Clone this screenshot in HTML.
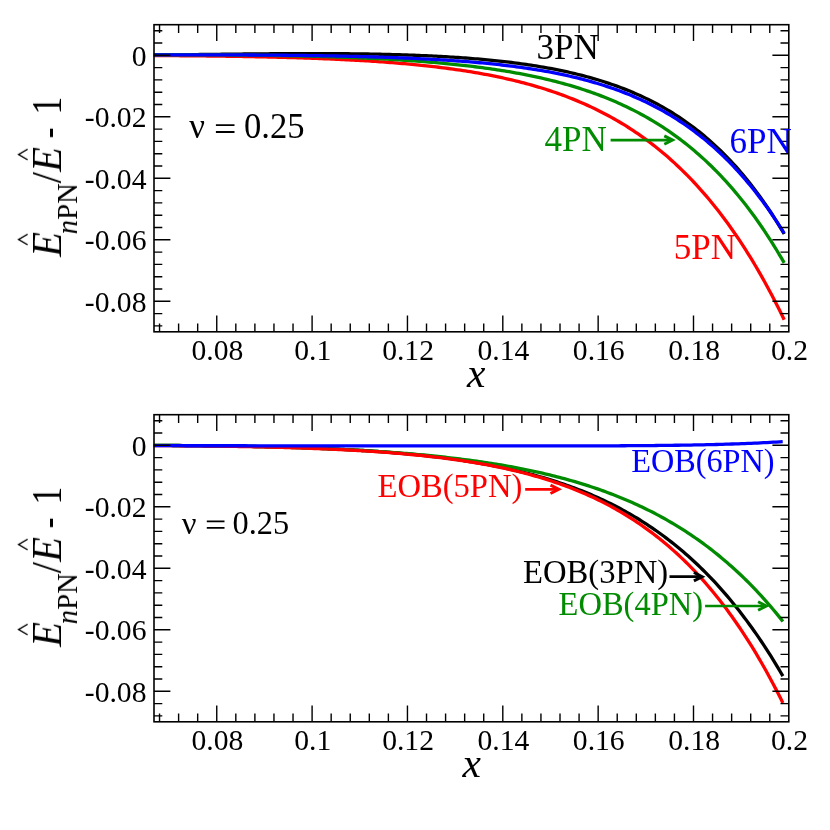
<!DOCTYPE html>
<html><head><meta charset="utf-8"><title>PN energy comparison</title>
<style>html,body{margin:0;padding:0;background:#fff;}svg{display:block;}</style>
</head><body>
<svg width="830" height="830" viewBox="0 0 830 830">
<rect width="830" height="830" fill="#fff"/>
<g style="will-change:transform">
<g fill="none" stroke-width="3.3" stroke-linecap="butt" stroke-linejoin="round">
<path d="M153.82,55.06 L156.25,55.03 L158.69,55.00 L161.12,54.98 L163.55,54.95 L165.99,54.92 L168.42,54.89 L170.86,54.86 L173.29,54.84 L175.72,54.81 L178.16,54.78 L180.59,54.75 L183.03,54.72 L185.46,54.69 L187.89,54.66 L190.33,54.63 L192.76,54.60 L195.20,54.57 L197.63,54.54 L200.06,54.51 L202.50,54.49 L204.93,54.46 L207.36,54.43 L209.80,54.40 L212.23,54.37 L214.67,54.34 L217.10,54.31 L219.53,54.28 L221.97,54.25 L224.40,54.23 L226.84,54.20 L229.27,54.17 L231.70,54.14 L234.14,54.12 L236.57,54.09 L239.01,54.06 L241.44,54.04 L243.87,54.01 L246.31,53.99 L248.74,53.96 L251.18,53.94 L253.61,53.92 L256.04,53.90 L258.48,53.87 L260.91,53.85 L263.34,53.83 L265.78,53.81 L268.21,53.79 L270.65,53.77 L273.08,53.76 L275.51,53.74 L277.95,53.72 L280.38,53.71 L282.82,53.69 L285.25,53.68 L287.68,53.67 L290.12,53.66 L292.55,53.65 L294.99,53.64 L297.42,53.63 L299.85,53.62 L302.29,53.62 L304.72,53.61 L307.15,53.61 L309.59,53.61 L312.02,53.60 L314.46,53.61 L316.89,53.61 L319.32,53.61 L321.76,53.61 L324.19,53.62 L326.63,53.63 L329.06,53.64 L331.49,53.65 L333.93,53.66 L336.36,53.67 L338.80,53.69 L341.23,53.71 L343.66,53.72 L346.10,53.75 L348.53,53.77 L350.97,53.79 L353.40,53.82 L355.83,53.85 L358.27,53.88 L360.70,53.91 L363.13,53.94 L365.57,53.98 L368.00,54.02 L370.44,54.06 L372.87,54.10 L375.30,54.15 L377.74,54.20 L380.17,54.25 L382.61,54.30 L385.04,54.36 L387.47,54.41 L389.91,54.47 L392.34,54.54 L394.78,54.60 L397.21,54.67 L399.64,54.74 L402.08,54.82 L404.51,54.90 L406.94,54.98 L409.38,55.06 L411.81,55.15 L414.25,55.24 L416.68,55.33 L419.11,55.43 L421.55,55.53 L423.98,55.63 L426.42,55.74 L428.85,55.85 L431.28,55.97 L433.72,56.09 L436.15,56.21 L438.59,56.34 L441.02,56.47 L443.45,56.60 L445.89,56.74 L448.32,56.88 L450.76,57.03 L453.19,57.18 L455.62,57.34 L458.06,57.50 L460.49,57.67 L462.92,57.84 L465.36,58.02 L467.79,58.20 L470.23,58.39 L472.66,58.58 L475.09,58.78 L477.53,58.98 L479.96,59.19 L482.40,59.41 L484.83,59.63 L487.26,59.86 L489.70,60.09 L492.13,60.33 L494.57,60.58 L497.00,60.83 L499.43,61.10 L501.87,61.36 L504.30,61.64 L506.74,61.92 L509.17,62.21 L511.60,62.51 L514.04,62.82 L516.47,63.13 L518.90,63.45 L521.34,63.78 L523.77,64.12 L526.21,64.47 L528.64,64.83 L531.07,65.19 L533.51,65.57 L535.94,65.96 L538.38,66.35 L540.81,66.76 L543.24,67.17 L545.68,67.60 L548.11,68.04 L550.55,68.49 L552.98,68.95 L555.41,69.42 L557.85,69.90 L560.28,70.40 L562.71,70.91 L565.15,71.43 L567.58,71.96 L570.02,72.51 L572.45,73.07 L574.88,73.65 L577.32,74.24 L579.75,74.84 L582.19,75.46 L584.62,76.09 L587.05,76.74 L589.49,77.41 L591.92,78.09 L594.36,78.79 L596.79,79.51 L599.22,80.24 L601.66,81.00 L604.09,81.77 L606.53,82.56 L608.96,83.36 L611.39,84.19 L613.83,85.04 L616.26,85.91 L618.69,86.80 L621.13,87.71 L623.56,88.64 L626.00,89.60 L628.43,90.58 L630.86,91.58 L633.30,92.61 L635.73,93.66 L638.17,94.74 L640.60,95.84 L643.03,96.96 L645.47,98.12 L647.90,99.30 L650.34,100.51 L652.77,101.75 L655.20,103.02 L657.64,104.32 L660.07,105.65 L662.50,107.01 L664.94,108.40 L667.37,109.82 L669.81,111.28 L672.24,112.77 L674.67,114.30 L677.11,115.86 L679.54,117.46 L681.98,119.09 L684.41,120.77 L686.84,122.48 L689.28,124.23 L691.71,126.02 L694.15,127.86 L696.58,129.73 L699.01,131.65 L701.45,133.61 L703.88,135.62 L706.32,137.67 L708.75,139.77 L711.18,141.91 L713.62,144.11 L716.05,146.35 L718.48,148.65 L720.92,150.99 L723.35,153.39 L725.79,155.85 L728.22,158.35 L730.65,160.92 L733.09,163.54 L735.52,166.22 L737.96,168.96 L740.39,171.76 L742.82,174.62 L745.26,177.54 L747.69,180.53 L750.13,183.58 L752.56,186.71 L754.99,189.90 L757.43,193.15 L759.86,196.48 L762.29,199.89 L764.73,203.36 L767.16,206.91 L769.60,210.54 L772.03,214.24 L774.46,218.03 L776.90,221.90 L779.33,225.84 L781.77,229.88 L784.20,234.00" stroke="#000000"/>
<path d="M153.82,55.54 L156.25,55.56 L158.69,55.57 L161.12,55.59 L163.55,55.60 L165.99,55.62 L168.42,55.63 L170.86,55.65 L173.29,55.67 L175.72,55.69 L178.16,55.71 L180.59,55.73 L183.03,55.75 L185.46,55.77 L187.89,55.79 L190.33,55.81 L192.76,55.83 L195.20,55.86 L197.63,55.88 L200.06,55.91 L202.50,55.93 L204.93,55.96 L207.36,55.98 L209.80,56.01 L212.23,56.04 L214.67,56.07 L217.10,56.10 L219.53,56.13 L221.97,56.17 L224.40,56.20 L226.84,56.24 L229.27,56.27 L231.70,56.31 L234.14,56.35 L236.57,56.38 L239.01,56.42 L241.44,56.47 L243.87,56.51 L246.31,56.55 L248.74,56.60 L251.18,56.64 L253.61,56.69 L256.04,56.74 L258.48,56.79 L260.91,56.84 L263.34,56.89 L265.78,56.94 L268.21,57.00 L270.65,57.05 L273.08,57.11 L275.51,57.17 L277.95,57.23 L280.38,57.29 L282.82,57.36 L285.25,57.42 L287.68,57.49 L290.12,57.56 L292.55,57.63 L294.99,57.71 L297.42,57.78 L299.85,57.86 L302.29,57.94 L304.72,58.02 L307.15,58.10 L309.59,58.18 L312.02,58.27 L314.46,58.36 L316.89,58.45 L319.32,58.54 L321.76,58.64 L324.19,58.74 L326.63,58.84 L329.06,58.94 L331.49,59.04 L333.93,59.15 L336.36,59.26 L338.80,59.38 L341.23,59.49 L343.66,59.61 L346.10,59.73 L348.53,59.86 L350.97,59.98 L353.40,60.12 L355.83,60.25 L358.27,60.39 L360.70,60.53 L363.13,60.67 L365.57,60.82 L368.00,60.97 L370.44,61.12 L372.87,61.28 L375.30,61.44 L377.74,61.61 L380.17,61.78 L382.61,61.95 L385.04,62.13 L387.47,62.31 L389.91,62.49 L392.34,62.68 L394.78,62.88 L397.21,63.08 L399.64,63.28 L402.08,63.49 L404.51,63.70 L406.94,63.92 L409.38,64.14 L411.81,64.37 L414.25,64.61 L416.68,64.85 L419.11,65.09 L421.55,65.34 L423.98,65.60 L426.42,65.86 L428.85,66.13 L431.28,66.40 L433.72,66.68 L436.15,66.97 L438.59,67.26 L441.02,67.56 L443.45,67.87 L445.89,68.18 L448.32,68.50 L450.76,68.83 L453.19,69.17 L455.62,69.51 L458.06,69.86 L460.49,70.22 L462.92,70.59 L465.36,70.96 L467.79,71.35 L470.23,71.74 L472.66,72.14 L475.09,72.55 L477.53,72.97 L479.96,73.40 L482.40,73.84 L484.83,74.28 L487.26,74.74 L489.70,75.21 L492.13,75.69 L494.57,76.18 L497.00,76.68 L499.43,77.19 L501.87,77.71 L504.30,78.24 L506.74,78.79 L509.17,79.34 L511.60,79.91 L514.04,80.49 L516.47,81.09 L518.90,81.70 L521.34,82.32 L523.77,82.95 L526.21,83.60 L528.64,84.26 L531.07,84.93 L533.51,85.62 L535.94,86.33 L538.38,87.05 L540.81,87.78 L543.24,88.53 L545.68,89.30 L548.11,90.09 L550.55,90.89 L552.98,91.70 L555.41,92.54 L557.85,93.39 L560.28,94.26 L562.71,95.15 L565.15,96.05 L567.58,96.98 L570.02,97.93 L572.45,98.89 L574.88,99.88 L577.32,100.88 L579.75,101.91 L582.19,102.96 L584.62,104.03 L587.05,105.12 L589.49,106.23 L591.92,107.37 L594.36,108.53 L596.79,109.71 L599.22,110.92 L601.66,112.16 L604.09,113.41 L606.53,114.70 L608.96,116.01 L611.39,117.34 L613.83,118.71 L616.26,120.10 L618.69,121.52 L621.13,122.97 L623.56,124.44 L626.00,125.95 L628.43,127.49 L630.86,129.05 L633.30,130.65 L635.73,132.28 L638.17,133.94 L640.60,135.64 L643.03,137.37 L645.47,139.13 L647.90,140.92 L650.34,142.76 L652.77,144.62 L655.20,146.53 L657.64,148.47 L660.07,150.45 L662.50,152.47 L664.94,154.52 L667.37,156.62 L669.81,158.76 L672.24,160.93 L674.67,163.15 L677.11,165.42 L679.54,167.72 L681.98,170.07 L684.41,172.46 L686.84,174.90 L689.28,177.39 L691.71,179.92 L694.15,182.50 L696.58,185.13 L699.01,187.81 L701.45,190.53 L703.88,193.31 L706.32,196.14 L708.75,199.03 L711.18,201.96 L713.62,204.95 L716.05,208.00 L718.48,211.10 L720.92,214.26 L723.35,217.48 L725.79,220.76 L728.22,224.09 L730.65,227.49 L733.09,230.95 L735.52,234.47 L737.96,238.05 L740.39,241.70 L742.82,245.42 L745.26,249.20 L747.69,253.05 L750.13,256.97 L752.56,260.96 L754.99,265.02 L757.43,269.15 L759.86,273.36 L762.29,277.64 L764.73,281.99 L767.16,286.43 L769.60,290.94 L772.03,295.53 L774.46,300.20 L776.90,304.95 L779.33,309.78 L781.77,314.70 L784.20,319.70" stroke="#ff0000"/>
<path d="M153.82,54.74 L156.25,54.74 L158.69,54.74 L161.12,54.74 L163.55,54.74 L165.99,54.74 L168.42,54.74 L170.86,54.74 L173.29,54.74 L175.72,54.74 L178.16,54.75 L180.59,54.75 L183.03,54.76 L185.46,54.76 L187.89,54.77 L190.33,54.77 L192.76,54.78 L195.20,54.79 L197.63,54.79 L200.06,54.80 L202.50,54.81 L204.93,54.82 L207.36,54.83 L209.80,54.85 L212.23,54.86 L214.67,54.87 L217.10,54.89 L219.53,54.90 L221.97,54.92 L224.40,54.93 L226.84,54.95 L229.27,54.97 L231.70,54.99 L234.14,55.01 L236.57,55.03 L239.01,55.05 L241.44,55.07 L243.87,55.10 L246.31,55.12 L248.74,55.15 L251.18,55.18 L253.61,55.20 L256.04,55.23 L258.48,55.26 L260.91,55.30 L263.34,55.33 L265.78,55.36 L268.21,55.40 L270.65,55.43 L273.08,55.47 L275.51,55.51 L277.95,55.55 L280.38,55.59 L282.82,55.64 L285.25,55.68 L287.68,55.73 L290.12,55.77 L292.55,55.82 L294.99,55.87 L297.42,55.92 L299.85,55.98 L302.29,56.03 L304.72,56.09 L307.15,56.15 L309.59,56.21 L312.02,56.27 L314.46,56.33 L316.89,56.40 L319.32,56.46 L321.76,56.53 L324.19,56.60 L326.63,56.67 L329.06,56.75 L331.49,56.83 L333.93,56.90 L336.36,56.98 L338.80,57.07 L341.23,57.15 L343.66,57.24 L346.10,57.33 L348.53,57.42 L350.97,57.51 L353.40,57.61 L355.83,57.71 L358.27,57.81 L360.70,57.91 L363.13,58.02 L365.57,58.12 L368.00,58.23 L370.44,58.35 L372.87,58.46 L375.30,58.58 L377.74,58.71 L380.17,58.83 L382.61,58.96 L385.04,59.09 L387.47,59.22 L389.91,59.36 L392.34,59.50 L394.78,59.64 L397.21,59.79 L399.64,59.94 L402.08,60.10 L404.51,60.25 L406.94,60.41 L409.38,60.58 L411.81,60.75 L414.25,60.92 L416.68,61.10 L419.11,61.28 L421.55,61.46 L423.98,61.65 L426.42,61.84 L428.85,62.04 L431.28,62.24 L433.72,62.45 L436.15,62.66 L438.59,62.87 L441.02,63.09 L443.45,63.32 L445.89,63.55 L448.32,63.79 L450.76,64.03 L453.19,64.27 L455.62,64.53 L458.06,64.78 L460.49,65.05 L462.92,65.32 L465.36,65.59 L467.79,65.87 L470.23,66.16 L472.66,66.45 L475.09,66.75 L477.53,67.06 L479.96,67.38 L482.40,67.70 L484.83,68.03 L487.26,68.36 L489.70,68.70 L492.13,69.05 L494.57,69.41 L497.00,69.78 L499.43,70.15 L501.87,70.54 L504.30,70.93 L506.74,71.33 L509.17,71.74 L511.60,72.15 L514.04,72.58 L516.47,73.02 L518.90,73.46 L521.34,73.92 L523.77,74.38 L526.21,74.86 L528.64,75.35 L531.07,75.84 L533.51,76.35 L535.94,76.87 L538.38,77.40 L540.81,77.94 L543.24,78.50 L545.68,79.06 L548.11,79.64 L550.55,80.23 L552.98,80.84 L555.41,81.45 L557.85,82.08 L560.28,82.73 L562.71,83.39 L565.15,84.06 L567.58,84.75 L570.02,85.45 L572.45,86.17 L574.88,86.90 L577.32,87.65 L579.75,88.42 L582.19,89.20 L584.62,90.00 L587.05,90.82 L589.49,91.65 L591.92,92.50 L594.36,93.38 L596.79,94.26 L599.22,95.17 L601.66,96.10 L604.09,97.05 L606.53,98.02 L608.96,99.01 L611.39,100.02 L613.83,101.05 L616.26,102.11 L618.69,103.18 L621.13,104.28 L623.56,105.40 L626.00,106.55 L628.43,107.72 L630.86,108.92 L633.30,110.14 L635.73,111.39 L638.17,112.66 L640.60,113.96 L643.03,115.29 L645.47,116.65 L647.90,118.03 L650.34,119.45 L652.77,120.89 L655.20,122.36 L657.64,123.87 L660.07,125.40 L662.50,126.97 L664.94,128.57 L667.37,130.20 L669.81,131.87 L672.24,133.57 L674.67,135.31 L677.11,137.08 L679.54,138.89 L681.98,140.74 L684.41,142.62 L686.84,144.55 L689.28,146.51 L691.71,148.51 L694.15,150.55 L696.58,152.64 L699.01,154.77 L701.45,156.94 L703.88,159.15 L706.32,161.41 L708.75,163.71 L711.18,166.06 L713.62,168.46 L716.05,170.91 L718.48,173.40 L720.92,175.95 L723.35,178.54 L725.79,181.19 L728.22,183.89 L730.65,186.65 L733.09,189.45 L735.52,192.32 L737.96,195.24 L740.39,198.21 L742.82,201.25 L745.26,204.35 L747.69,207.50 L750.13,210.72 L752.56,214.00 L754.99,217.34 L757.43,220.75 L759.86,224.23 L762.29,227.77 L764.73,231.38 L767.16,235.06 L769.60,238.81 L772.03,242.63 L774.46,246.52 L776.90,250.49 L779.33,254.54 L781.77,258.66 L784.20,262.86" stroke="#008b00"/>
<path d="M153.82,54.81 L156.25,54.80 L158.69,54.80 L161.12,54.80 L163.55,54.80 L165.99,54.79 L168.42,54.79 L170.86,54.79 L173.29,54.79 L175.72,54.79 L178.16,54.79 L180.59,54.79 L183.03,54.79 L185.46,54.79 L187.89,54.80 L190.33,54.80 L192.76,54.80 L195.20,54.80 L197.63,54.80 L200.06,54.81 L202.50,54.81 L204.93,54.82 L207.36,54.82 L209.80,54.83 L212.23,54.83 L214.67,54.84 L217.10,54.84 L219.53,54.85 L221.97,54.86 L224.40,54.87 L226.84,54.88 L229.27,54.88 L231.70,54.89 L234.14,54.90 L236.57,54.92 L239.01,54.93 L241.44,54.94 L243.87,54.95 L246.31,54.96 L248.74,54.98 L251.18,54.99 L253.61,55.01 L256.04,55.02 L258.48,55.04 L260.91,55.06 L263.34,55.08 L265.78,55.09 L268.21,55.11 L270.65,55.13 L273.08,55.15 L275.51,55.18 L277.95,55.20 L280.38,55.22 L282.82,55.25 L285.25,55.27 L287.68,55.30 L290.12,55.32 L292.55,55.35 L294.99,55.38 L297.42,55.41 L299.85,55.44 L302.29,55.47 L304.72,55.50 L307.15,55.54 L309.59,55.57 L312.02,55.61 L314.46,55.64 L316.89,55.68 L319.32,55.72 L321.76,55.76 L324.19,55.80 L326.63,55.84 L329.06,55.88 L331.49,55.93 L333.93,55.97 L336.36,56.02 L338.80,56.07 L341.23,56.12 L343.66,56.17 L346.10,56.22 L348.53,56.28 L350.97,56.33 L353.40,56.39 L355.83,56.45 L358.27,56.51 L360.70,56.57 L363.13,56.64 L365.57,56.70 L368.00,56.77 L370.44,56.84 L372.87,56.91 L375.30,56.98 L377.74,57.05 L380.17,57.13 L382.61,57.21 L385.04,57.29 L387.47,57.37 L389.91,57.46 L392.34,57.54 L394.78,57.63 L397.21,57.73 L399.64,57.82 L402.08,57.92 L404.51,58.01 L406.94,58.12 L409.38,58.22 L411.81,58.33 L414.25,58.44 L416.68,58.55 L419.11,58.67 L421.55,58.78 L423.98,58.91 L426.42,59.03 L428.85,59.16 L431.28,59.29 L433.72,59.42 L436.15,59.56 L438.59,59.70 L441.02,59.85 L443.45,60.00 L445.89,60.15 L448.32,60.31 L450.76,60.47 L453.19,60.63 L455.62,60.80 L458.06,60.98 L460.49,61.15 L462.92,61.34 L465.36,61.52 L467.79,61.72 L470.23,61.91 L472.66,62.12 L475.09,62.32 L477.53,62.54 L479.96,62.75 L482.40,62.98 L484.83,63.21 L487.26,63.44 L489.70,63.68 L492.13,63.93 L494.57,64.19 L497.00,64.45 L499.43,64.71 L501.87,64.99 L504.30,65.27 L506.74,65.56 L509.17,65.85 L511.60,66.16 L514.04,66.47 L516.47,66.79 L518.90,67.11 L521.34,67.45 L523.77,67.79 L526.21,68.14 L528.64,68.50 L531.07,68.88 L533.51,69.26 L535.94,69.64 L538.38,70.04 L540.81,70.45 L543.24,70.87 L545.68,71.30 L548.11,71.74 L550.55,72.20 L552.98,72.66 L555.41,73.13 L557.85,73.62 L560.28,74.12 L562.71,74.63 L565.15,75.15 L567.58,75.69 L570.02,76.24 L572.45,76.80 L574.88,77.38 L577.32,77.97 L579.75,78.58 L582.19,79.20 L584.62,79.84 L587.05,80.49 L589.49,81.16 L591.92,81.84 L594.36,82.55 L596.79,83.26 L599.22,84.00 L601.66,84.75 L604.09,85.52 L606.53,86.31 L608.96,87.12 L611.39,87.95 L613.83,88.80 L616.26,89.67 L618.69,90.56 L621.13,91.47 L623.56,92.40 L626.00,93.36 L628.43,94.33 L630.86,95.33 L633.30,96.36 L635.73,97.40 L638.17,98.48 L640.60,99.57 L643.03,100.70 L645.47,101.84 L647.90,103.02 L650.34,104.22 L652.77,105.45 L655.20,106.71 L657.64,108.00 L660.07,109.32 L662.50,110.66 L664.94,112.04 L667.37,113.45 L669.81,114.89 L672.24,116.37 L674.67,117.88 L677.11,119.42 L679.54,120.99 L681.98,122.61 L684.41,124.25 L686.84,125.94 L689.28,127.66 L691.71,129.42 L694.15,131.22 L696.58,133.06 L699.01,134.94 L701.45,136.86 L703.88,138.82 L706.32,140.83 L708.75,142.88 L711.18,144.97 L713.62,147.11 L716.05,149.30 L718.48,151.53 L720.92,153.81 L723.35,156.14 L725.79,158.52 L728.22,160.96 L730.65,163.44 L733.09,165.97 L735.52,168.56 L737.96,171.21 L740.39,173.91 L742.82,176.66 L745.26,179.48 L747.69,182.35 L750.13,185.28 L752.56,188.27 L754.99,191.33 L757.43,194.45 L759.86,197.63 L762.29,200.88 L764.73,204.19 L767.16,207.58 L769.60,211.03 L772.03,214.55 L774.46,218.14 L776.90,221.81 L779.33,225.55 L781.77,229.36 L784.20,233.25" stroke="#0000ff"/>
</g>
<g stroke="#000" stroke-width="1.6" fill="none" stroke-linecap="butt">
<rect x="154.0" y="24.70" width="634.80" height="307.10"/>
<path d="M159.54,331.80v-8.3M159.54,24.70v8.3M178.61,331.80v-8.3M178.61,24.70v8.3M197.68,331.80v-8.3M197.68,24.70v8.3M216.75,331.80v-16.4M216.75,24.70v16.4M235.82,331.80v-8.3M235.82,24.70v8.3M254.89,331.80v-8.3M254.89,24.70v8.3M273.96,331.80v-8.3M273.96,24.70v8.3M293.03,331.80v-8.3M293.03,24.70v8.3M312.10,331.80v-16.4M312.10,24.70v16.4M331.17,331.80v-8.3M331.17,24.70v8.3M350.24,331.80v-8.3M350.24,24.70v8.3M369.31,331.80v-8.3M369.31,24.70v8.3M388.38,331.80v-8.3M388.38,24.70v8.3M407.45,331.80v-16.4M407.45,24.70v16.4M426.52,331.80v-8.3M426.52,24.70v8.3M445.59,331.80v-8.3M445.59,24.70v8.3M464.66,331.80v-8.3M464.66,24.70v8.3M483.73,331.80v-8.3M483.73,24.70v8.3M502.80,331.80v-16.4M502.80,24.70v16.4M521.87,331.80v-8.3M521.87,24.70v8.3M540.94,331.80v-8.3M540.94,24.70v8.3M560.01,331.80v-8.3M560.01,24.70v8.3M579.08,331.80v-8.3M579.08,24.70v8.3M598.15,331.80v-16.4M598.15,24.70v16.4M617.22,331.80v-8.3M617.22,24.70v8.3M636.29,331.80v-8.3M636.29,24.70v8.3M655.36,331.80v-8.3M655.36,24.70v8.3M674.43,331.80v-8.3M674.43,24.70v8.3M693.50,331.80v-16.4M693.50,24.70v16.4M712.57,331.80v-8.3M712.57,24.70v8.3M731.64,331.80v-8.3M731.64,24.70v8.3M750.71,331.80v-8.3M750.71,24.70v8.3M769.78,331.80v-8.3M769.78,24.70v8.3M154.0,325.90h8.3M788.8,325.90h-8.3M154.0,313.60h8.3M788.8,313.60h-8.3M154.0,301.30h16.4M788.8,301.30h-16.4M154.0,289.00h8.3M788.8,289.00h-8.3M154.0,276.70h8.3M788.8,276.70h-8.3M154.0,264.40h8.3M788.8,264.40h-8.3M154.0,252.10h8.3M788.8,252.10h-8.3M154.0,239.80h16.4M788.8,239.80h-16.4M154.0,227.50h8.3M788.8,227.50h-8.3M154.0,215.20h8.3M788.8,215.20h-8.3M154.0,202.90h8.3M788.8,202.90h-8.3M154.0,190.60h8.3M788.8,190.60h-8.3M154.0,178.30h16.4M788.8,178.30h-16.4M154.0,166.00h8.3M788.8,166.00h-8.3M154.0,153.70h8.3M788.8,153.70h-8.3M154.0,141.40h8.3M788.8,141.40h-8.3M154.0,129.10h8.3M788.8,129.10h-8.3M154.0,116.80h16.4M788.8,116.80h-16.4M154.0,104.50h8.3M788.8,104.50h-8.3M154.0,92.20h8.3M788.8,92.20h-8.3M154.0,79.90h8.3M788.8,79.90h-8.3M154.0,67.60h8.3M788.8,67.60h-8.3M154.0,55.30h16.4M788.8,55.30h-16.4M154.0,43.00h8.3M788.8,43.00h-8.3M154.0,30.70h8.3M788.8,30.70h-8.3" stroke-width="1.4"/>
</g>
<g font-family="Liberation Serif, serif" fill="#000">
<text transform="translate(217.35,359.80) scale(1,1.0)" font-size="29.64" text-anchor="middle">0.08</text>
<text transform="translate(312.70,359.80) scale(1,1.0)" font-size="29.64" text-anchor="middle">0.1</text>
<text transform="translate(408.05,359.80) scale(1,1.0)" font-size="29.64" text-anchor="middle">0.12</text>
<text transform="translate(503.40,359.80) scale(1,1.0)" font-size="29.64" text-anchor="middle">0.14</text>
<text transform="translate(598.75,359.80) scale(1,1.0)" font-size="29.64" text-anchor="middle">0.16</text>
<text transform="translate(694.10,359.80) scale(1,1.0)" font-size="29.64" text-anchor="middle">0.18</text>
<text transform="translate(789.45,359.80) scale(1,1.0)" font-size="29.64" text-anchor="middle">0.2</text>
<text transform="translate(146.50,65.50) scale(1,1.0)" font-size="29.64" text-anchor="end">0</text>
<text transform="translate(146.50,127.00) scale(1,1.0)" font-size="29.64" text-anchor="end">-0.02</text>
<text transform="translate(146.50,188.50) scale(1,1.0)" font-size="29.64" text-anchor="end">-0.04</text>
<text transform="translate(146.50,250.00) scale(1,1.0)" font-size="29.64" text-anchor="end">-0.06</text>
<text transform="translate(146.50,311.50) scale(1,1.0)" font-size="29.64" text-anchor="end">-0.08</text>
</g>
<g transform="translate(61.0,256.80) rotate(-90)" font-family="Liberation Serif, serif" fill="#000">
<text transform="translate(0.00,0.00) scale(1,1.04)" font-size="40.60" font-style="italic">E</text>
<text transform="translate(22.60,16.20) scale(1,1.05)" font-size="28.60" font-style="italic">n</text>
<text transform="translate(37.00,16.20) scale(1,1.05)" font-size="28.60">PN</text>
<text transform="translate(73.60,0.00) scale(1,1.06)" font-size="40.60">/</text>
<text transform="translate(85.00,0.00) scale(1,1.04)" font-size="40.60" font-style="italic">E</text>
<text transform="translate(118.60,0.00) scale(0.8,1.0)" font-size="40.60">-</text>
<text transform="translate(142.30,0.00) scale(0.88,1.03)" font-size="40.60">1</text>
<path d="M12.0,-33.4 l5.3,-9.0 l5.3,9.0" stroke="#000" stroke-width="1.25" fill="none"/>
<path d="M97.0,-33.4 l5.3,-9.0 l5.3,9.0" stroke="#000" stroke-width="1.25" fill="none"/>
</g>
<g font-family="Liberation Serif, serif">
<text transform="translate(466.90,386.60) scale(1,1.0)" font-size="41.50" font-style="italic">x</text>
<text transform="translate(189.30,138.30) scale(1,1.0)" font-size="34.84">ν</text>
<text transform="translate(244.00,138.30) scale(1,1.007)" font-size="34.60">0.25</text>
<path d="M215.9,125.1H234.5M215.9,132.0H234.5" stroke="#000" stroke-width="1.8" fill="none"/>
<text transform="translate(536.50,58.80) scale(1,1.0)" font-size="35.02">3PN</text>
<text transform="translate(544.60,150.60) scale(1,1.0)" font-size="35.02" fill="#008b00">4PN</text>
<text transform="translate(673.80,258.90) scale(1,1.0)" font-size="35.02" fill="#ff0000">5PN</text>
<text transform="translate(729.50,152.70) scale(1,1.0)" font-size="35.02" fill="#0000ff">6PN</text>
</g>
<g stroke="#008b00" stroke-width="2.7" fill="none" stroke-linecap="butt" stroke-linejoin="miter">
<path d="M610.6,140.1H671.6"/>
<path d="M664.3,135.9L672.6,140.1L664.3,144.3" stroke-width="2.95"/>
</g>
<g fill="none" stroke-width="3.3" stroke-linecap="butt" stroke-linejoin="round">
<path d="M153.82,445.37 L156.25,445.38 L158.68,445.39 L161.11,445.41 L163.53,445.42 L165.96,445.43 L168.39,445.45 L170.82,445.46 L173.25,445.48 L175.68,445.49 L178.11,445.51 L180.54,445.52 L182.97,445.54 L185.39,445.56 L187.82,445.58 L190.25,445.60 L192.68,445.62 L195.11,445.64 L197.54,445.66 L199.97,445.69 L202.40,445.71 L204.83,445.73 L207.25,445.76 L209.68,445.79 L212.11,445.81 L214.54,445.84 L216.97,445.87 L219.40,445.90 L221.83,445.93 L224.26,445.97 L226.69,446.00 L229.11,446.03 L231.54,446.07 L233.97,446.10 L236.40,446.14 L238.83,446.18 L241.26,446.22 L243.69,446.26 L246.12,446.31 L248.55,446.35 L250.97,446.39 L253.40,446.44 L255.83,446.49 L258.26,446.54 L260.69,446.59 L263.12,446.64 L265.55,446.69 L267.98,446.75 L270.41,446.81 L272.83,446.87 L275.26,446.93 L277.69,446.99 L280.12,447.05 L282.55,447.12 L284.98,447.18 L287.41,447.25 L289.84,447.32 L292.27,447.39 L294.69,447.47 L297.12,447.54 L299.55,447.62 L301.98,447.70 L304.41,447.78 L306.84,447.87 L309.27,447.95 L311.70,448.04 L314.13,448.13 L316.55,448.23 L318.98,448.32 L321.41,448.42 L323.84,448.52 L326.27,448.62 L328.70,448.73 L331.13,448.84 L333.56,448.95 L335.99,449.06 L338.41,449.18 L340.84,449.30 L343.27,449.42 L345.70,449.54 L348.13,449.67 L350.56,449.80 L352.99,449.93 L355.42,450.07 L357.85,450.21 L360.27,450.35 L362.70,450.50 L365.13,450.65 L367.56,450.80 L369.99,450.96 L372.42,451.12 L374.85,451.29 L377.28,451.45 L379.71,451.63 L382.13,451.80 L384.56,451.98 L386.99,452.17 L389.42,452.35 L391.85,452.55 L394.28,452.74 L396.71,452.94 L399.14,453.15 L401.57,453.36 L403.99,453.57 L406.42,453.79 L408.85,454.02 L411.28,454.25 L413.71,454.48 L416.14,454.72 L418.57,454.97 L421.00,455.22 L423.43,455.47 L425.85,455.73 L428.28,456.00 L430.71,456.27 L433.14,456.55 L435.57,456.83 L438.00,457.12 L440.43,457.42 L442.86,457.72 L445.29,458.03 L447.71,458.35 L450.14,458.67 L452.57,459.00 L455.00,459.34 L457.43,459.68 L459.86,460.03 L462.29,460.39 L464.72,460.76 L467.15,461.13 L469.57,461.51 L472.00,461.90 L474.43,462.30 L476.86,462.70 L479.29,463.12 L481.72,463.54 L484.15,463.97 L486.58,464.41 L489.01,464.86 L491.43,465.32 L493.86,465.79 L496.29,466.26 L498.72,466.75 L501.15,467.25 L503.58,467.75 L506.01,468.27 L508.44,468.80 L510.86,469.34 L513.29,469.89 L515.72,470.45 L518.15,471.02 L520.58,471.61 L523.01,472.20 L525.44,472.81 L527.87,473.43 L530.30,474.06 L532.72,474.71 L535.15,475.36 L537.58,476.03 L540.01,476.72 L542.44,477.41 L544.87,478.13 L547.30,478.85 L549.73,479.59 L552.16,480.35 L554.58,481.11 L557.01,481.90 L559.44,482.70 L561.87,483.51 L564.30,484.35 L566.73,485.19 L569.16,486.06 L571.59,486.94 L574.02,487.84 L576.44,488.75 L578.87,489.68 L581.30,490.64 L583.73,491.60 L586.16,492.59 L588.59,493.60 L591.02,494.63 L593.45,495.67 L595.88,496.74 L598.30,497.83 L600.73,498.93 L603.16,500.06 L605.59,501.21 L608.02,502.38 L610.45,503.58 L612.88,504.79 L615.31,506.03 L617.74,507.29 L620.16,508.58 L622.59,509.89 L625.02,511.22 L627.45,512.58 L629.88,513.97 L632.31,515.38 L634.74,516.82 L637.17,518.28 L639.60,519.77 L642.02,521.29 L644.45,522.84 L646.88,524.42 L649.31,526.02 L651.74,527.65 L654.17,529.32 L656.60,531.01 L659.03,532.74 L661.46,534.49 L663.88,536.28 L666.31,538.11 L668.74,539.96 L671.17,541.85 L673.60,543.77 L676.03,545.73 L678.46,547.72 L680.89,549.75 L683.32,551.81 L685.74,553.91 L688.17,556.05 L690.60,558.23 L693.03,560.45 L695.46,562.70 L697.89,565.00 L700.32,567.33 L702.75,569.71 L705.18,572.13 L707.60,574.59 L710.03,577.10 L712.46,579.65 L714.89,582.24 L717.32,584.88 L719.75,587.57 L722.18,590.30 L724.61,593.08 L727.04,595.91 L729.46,598.79 L731.89,601.72 L734.32,604.69 L736.75,607.72 L739.18,610.81 L741.61,613.94 L744.04,617.13 L746.47,620.37 L748.90,623.67 L751.32,627.02 L753.75,630.43 L756.18,633.90 L758.61,637.43 L761.04,641.02 L763.47,644.67 L765.90,648.38 L768.33,652.15 L770.76,655.98 L773.18,659.88 L775.61,663.85 L778.04,667.88 L780.47,671.98 L782.90,676.14" stroke="#000000"/>
<path d="M153.82,445.37 L156.25,445.39 L158.68,445.40 L161.11,445.41 L163.53,445.43 L165.96,445.44 L168.39,445.45 L170.82,445.47 L173.25,445.49 L175.68,445.50 L178.11,445.52 L180.54,445.54 L182.97,445.56 L185.39,445.58 L187.82,445.60 L190.25,445.62 L192.68,445.64 L195.11,445.67 L197.54,445.69 L199.97,445.71 L202.40,445.74 L204.83,445.77 L207.25,445.79 L209.68,445.82 L212.11,445.85 L214.54,445.88 L216.97,445.91 L219.40,445.95 L221.83,445.98 L224.26,446.01 L226.69,446.05 L229.11,446.08 L231.54,446.12 L233.97,446.16 L236.40,446.20 L238.83,446.24 L241.26,446.28 L243.69,446.33 L246.12,446.37 L248.55,446.42 L250.97,446.46 L253.40,446.51 L255.83,446.56 L258.26,446.61 L260.69,446.67 L263.12,446.72 L265.55,446.77 L267.98,446.83 L270.41,446.89 L272.83,446.95 L275.26,447.01 L277.69,447.07 L280.12,447.14 L282.55,447.20 L284.98,447.27 L287.41,447.34 L289.84,447.41 L292.27,447.48 L294.69,447.56 L297.12,447.63 L299.55,447.71 L301.98,447.79 L304.41,447.87 L306.84,447.96 L309.27,448.04 L311.70,448.13 L314.13,448.22 L316.55,448.31 L318.98,448.41 L321.41,448.50 L323.84,448.60 L326.27,448.70 L328.70,448.80 L331.13,448.91 L333.56,449.01 L335.99,449.12 L338.41,449.24 L340.84,449.35 L343.27,449.47 L345.70,449.59 L348.13,449.71 L350.56,449.83 L352.99,449.96 L355.42,450.09 L357.85,450.22 L360.27,450.35 L362.70,450.49 L365.13,450.63 L367.56,450.78 L369.99,450.92 L372.42,451.07 L374.85,451.23 L377.28,451.38 L379.71,451.54 L382.13,451.70 L384.56,451.87 L386.99,452.04 L389.42,452.21 L391.85,452.38 L394.28,452.56 L396.71,452.75 L399.14,452.93 L401.57,453.12 L403.99,453.32 L406.42,453.51 L408.85,453.71 L411.28,453.92 L413.71,454.13 L416.14,454.34 L418.57,454.56 L421.00,454.78 L423.43,455.01 L425.85,455.24 L428.28,455.47 L430.71,455.71 L433.14,455.96 L435.57,456.20 L438.00,456.46 L440.43,456.72 L442.86,456.98 L445.29,457.25 L447.71,457.52 L450.14,457.80 L452.57,458.08 L455.00,458.37 L457.43,458.66 L459.86,458.96 L462.29,459.27 L464.72,459.58 L467.15,459.90 L469.57,460.22 L472.00,460.55 L474.43,460.88 L476.86,461.22 L479.29,461.57 L481.72,461.92 L484.15,462.28 L486.58,462.65 L489.01,463.02 L491.43,463.40 L493.86,463.79 L496.29,464.19 L498.72,464.59 L501.15,465.00 L503.58,465.42 L506.01,465.84 L508.44,466.27 L510.86,466.71 L513.29,467.16 L515.72,467.62 L518.15,468.08 L520.58,468.56 L523.01,469.04 L525.44,469.53 L527.87,470.03 L530.30,470.54 L532.72,471.05 L535.15,471.58 L537.58,472.12 L540.01,472.66 L542.44,473.22 L544.87,473.79 L547.30,474.36 L549.73,474.95 L552.16,475.55 L554.58,476.16 L557.01,476.78 L559.44,477.41 L561.87,478.05 L564.30,478.70 L566.73,479.37 L569.16,480.04 L571.59,480.73 L574.02,481.43 L576.44,482.15 L578.87,482.87 L581.30,483.61 L583.73,484.37 L586.16,485.13 L588.59,485.91 L591.02,486.71 L593.45,487.52 L595.88,488.34 L598.30,489.18 L600.73,490.03 L603.16,490.89 L605.59,491.78 L608.02,492.68 L610.45,493.59 L612.88,494.52 L615.31,495.47 L617.74,496.43 L620.16,497.41 L622.59,498.41 L625.02,499.42 L627.45,500.46 L629.88,501.51 L632.31,502.58 L634.74,503.66 L637.17,504.77 L639.60,505.90 L642.02,507.05 L644.45,508.21 L646.88,509.40 L649.31,510.61 L651.74,511.84 L654.17,513.09 L656.60,514.36 L659.03,515.65 L661.46,516.97 L663.88,518.31 L666.31,519.67 L668.74,521.06 L671.17,522.47 L673.60,523.91 L676.03,525.37 L678.46,526.85 L680.89,528.36 L683.32,529.90 L685.74,531.46 L688.17,533.06 L690.60,534.67 L693.03,536.32 L695.46,537.99 L697.89,539.69 L700.32,541.43 L702.75,543.19 L705.18,544.98 L707.60,546.80 L710.03,548.65 L712.46,550.54 L714.89,552.46 L717.32,554.40 L719.75,556.39 L722.18,558.40 L724.61,560.45 L727.04,562.54 L729.46,564.66 L731.89,566.81 L734.32,569.00 L736.75,571.23 L739.18,573.50 L741.61,575.80 L744.04,578.15 L746.47,580.53 L748.90,582.95 L751.32,585.41 L753.75,587.92 L756.18,590.46 L758.61,593.05 L761.04,595.68 L763.47,598.36 L765.90,601.08 L768.33,603.84 L770.76,606.65 L773.18,609.51 L775.61,612.41 L778.04,615.36 L780.47,618.36 L782.90,621.41" stroke="#008b00"/>
<path d="M153.82,445.55 L156.25,445.57 L158.68,445.58 L161.11,445.60 L163.53,445.61 L165.96,445.63 L168.39,445.65 L170.82,445.67 L173.25,445.68 L175.68,445.70 L178.11,445.72 L180.54,445.74 L182.97,445.77 L185.39,445.79 L187.82,445.81 L190.25,445.83 L192.68,445.86 L195.11,445.88 L197.54,445.91 L199.97,445.93 L202.40,445.96 L204.83,445.99 L207.25,446.02 L209.68,446.05 L212.11,446.08 L214.54,446.11 L216.97,446.14 L219.40,446.18 L221.83,446.21 L224.26,446.25 L226.69,446.28 L229.11,446.32 L231.54,446.36 L233.97,446.40 L236.40,446.44 L238.83,446.48 L241.26,446.52 L243.69,446.57 L246.12,446.61 L248.55,446.66 L250.97,446.71 L253.40,446.76 L255.83,446.81 L258.26,446.86 L260.69,446.91 L263.12,446.97 L265.55,447.02 L267.98,447.08 L270.41,447.14 L272.83,447.20 L275.26,447.26 L277.69,447.32 L280.12,447.39 L282.55,447.45 L284.98,447.52 L287.41,447.59 L289.84,447.66 L292.27,447.74 L294.69,447.81 L297.12,447.89 L299.55,447.97 L301.98,448.05 L304.41,448.13 L306.84,448.21 L309.27,448.30 L311.70,448.39 L314.13,448.48 L316.55,448.57 L318.98,448.67 L321.41,448.77 L323.84,448.87 L326.27,448.97 L328.70,449.07 L331.13,449.18 L333.56,449.29 L335.99,449.40 L338.41,449.52 L340.84,449.63 L343.27,449.75 L345.70,449.88 L348.13,450.00 L350.56,450.13 L352.99,450.27 L355.42,450.40 L357.85,450.54 L360.27,450.68 L362.70,450.82 L365.13,450.97 L367.56,451.12 L369.99,451.28 L372.42,451.44 L374.85,451.60 L377.28,451.76 L379.71,451.93 L382.13,452.11 L384.56,452.29 L386.99,452.47 L389.42,452.65 L391.85,452.84 L394.28,453.04 L396.71,453.23 L399.14,453.44 L401.57,453.65 L403.99,453.86 L406.42,454.08 L408.85,454.30 L411.28,454.52 L413.71,454.76 L416.14,454.99 L418.57,455.24 L421.00,455.48 L423.43,455.74 L425.85,456.00 L428.28,456.26 L430.71,456.53 L433.14,456.81 L435.57,457.09 L438.00,457.38 L440.43,457.68 L442.86,457.98 L445.29,458.29 L447.71,458.61 L450.14,458.93 L452.57,459.26 L455.00,459.60 L457.43,459.95 L459.86,460.30 L462.29,460.66 L464.72,461.03 L467.15,461.41 L469.57,461.79 L472.00,462.18 L474.43,462.59 L476.86,463.00 L479.29,463.42 L481.72,463.85 L484.15,464.28 L486.58,464.73 L489.01,465.19 L491.43,465.66 L493.86,466.14 L496.29,466.62 L498.72,467.12 L501.15,467.63 L503.58,468.15 L506.01,468.69 L508.44,469.23 L510.86,469.79 L513.29,470.35 L515.72,470.93 L518.15,471.52 L520.58,472.13 L523.01,472.75 L525.44,473.38 L527.87,474.02 L530.30,474.68 L532.72,475.35 L535.15,476.04 L537.58,476.74 L540.01,477.45 L542.44,478.18 L544.87,478.93 L547.30,479.69 L549.73,480.47 L552.16,481.27 L554.58,482.08 L557.01,482.91 L559.44,483.75 L561.87,484.61 L564.30,485.50 L566.73,486.40 L569.16,487.31 L571.59,488.25 L574.02,489.21 L576.44,490.19 L578.87,491.18 L581.30,492.20 L583.73,493.24 L586.16,494.30 L588.59,495.38 L591.02,496.48 L593.45,497.61 L595.88,498.76 L598.30,499.93 L600.73,501.13 L603.16,502.35 L605.59,503.60 L608.02,504.87 L610.45,506.17 L612.88,507.49 L615.31,508.84 L617.74,510.22 L620.16,511.62 L622.59,513.06 L625.02,514.52 L627.45,516.01 L629.88,517.53 L632.31,519.08 L634.74,520.66 L637.17,522.27 L639.60,523.92 L642.02,525.60 L644.45,527.31 L646.88,529.05 L649.31,530.83 L651.74,532.64 L654.17,534.49 L656.60,536.37 L659.03,538.29 L661.46,540.25 L663.88,542.25 L666.31,544.28 L668.74,546.36 L671.17,548.47 L673.60,550.63 L676.03,552.83 L678.46,555.06 L680.89,557.34 L683.32,559.67 L685.74,562.04 L688.17,564.45 L690.60,566.91 L693.03,569.42 L695.46,571.97 L697.89,574.58 L700.32,577.23 L702.75,579.93 L705.18,582.68 L707.60,585.48 L710.03,588.33 L712.46,591.24 L714.89,594.20 L717.32,597.22 L719.75,600.29 L722.18,603.42 L724.61,606.61 L727.04,609.86 L729.46,613.16 L731.89,616.53 L734.32,619.95 L736.75,623.44 L739.18,626.99 L741.61,630.61 L744.04,634.29 L746.47,638.04 L748.90,641.86 L751.32,645.74 L753.75,649.70 L756.18,653.72 L758.61,657.82 L761.04,661.99 L763.47,666.23 L765.90,670.55 L768.33,674.95 L770.76,679.42 L773.18,683.98 L775.61,688.61 L778.04,693.32 L780.47,698.12 L782.90,703.00" stroke="#ff0000"/>
<path d="M153.82,445.70 L156.98,445.70 L160.14,445.71 L163.30,445.71 L166.46,445.71 L169.62,445.71 L172.78,445.72 L175.94,445.72 L179.10,445.72 L182.26,445.72 L185.42,445.73 L188.58,445.73 L191.74,445.73 L194.90,445.73 L198.06,445.74 L201.22,445.74 L204.38,445.74 L207.54,445.74 L210.70,445.75 L213.86,445.75 L217.02,445.75 L220.18,445.75 L223.34,445.76 L226.50,445.76 L229.66,445.76 L232.82,445.76 L235.98,445.77 L239.14,445.77 L242.30,445.77 L245.46,445.77 L248.63,445.78 L251.79,445.78 L254.95,445.78 L258.11,445.78 L261.27,445.79 L264.43,445.79 L267.59,445.79 L270.75,445.79 L273.91,445.80 L277.07,445.80 L280.23,445.80 L283.39,445.80 L286.55,445.81 L289.71,445.81 L292.87,445.81 L296.03,445.81 L299.19,445.82 L302.35,445.82 L305.51,445.82 L308.67,445.82 L311.83,445.83 L314.99,445.83 L318.15,445.83 L321.31,445.84 L324.47,445.84 L327.63,445.84 L330.79,445.84 L333.95,445.85 L337.11,445.85 L340.27,445.85 L343.43,445.85 L346.59,445.86 L349.75,445.86 L352.91,445.86 L356.07,445.86 L359.23,445.87 L362.39,445.87 L365.55,445.87 L368.71,445.87 L371.87,445.88 L375.03,445.88 L378.19,445.88 L381.35,445.88 L384.51,445.89 L387.67,445.89 L390.83,445.89 L393.99,445.89 L397.15,445.90 L400.32,445.90 L403.48,445.90 L406.64,445.90 L409.80,445.91 L412.96,445.91 L416.12,445.91 L419.28,445.91 L422.44,445.91 L425.60,445.92 L428.76,445.92 L431.92,445.92 L435.08,445.92 L438.24,445.93 L441.40,445.93 L444.56,445.93 L447.72,445.93 L450.88,445.93 L454.04,445.94 L457.20,445.94 L460.36,445.94 L463.52,445.94 L466.68,445.94 L469.84,445.95 L473.00,445.95 L476.16,445.95 L479.32,445.95 L482.48,445.95 L485.64,445.95 L488.80,445.95 L491.96,445.96 L495.12,445.96 L498.28,445.96 L501.44,445.96 L504.60,445.96 L507.76,445.96 L510.92,445.96 L514.08,445.96 L517.24,445.96 L520.40,445.96 L523.56,445.96 L526.72,445.96 L529.88,445.96 L533.04,445.96 L536.20,445.96 L539.36,445.96 L542.52,445.95 L545.68,445.95 L548.84,445.95 L552.00,445.95 L555.17,445.94 L558.33,445.94 L561.49,445.94 L564.65,445.93 L567.81,445.93 L570.97,445.92 L574.13,445.92 L577.29,445.91 L580.45,445.91 L583.61,445.90 L586.77,445.89 L589.93,445.88 L593.09,445.87 L596.25,445.86 L599.41,445.85 L602.57,445.84 L605.73,445.83 L608.89,445.82 L612.05,445.80 L615.21,445.79 L618.37,445.78 L621.53,445.76 L624.69,445.74 L627.85,445.72 L631.01,445.70 L634.17,445.68 L637.33,445.66 L640.49,445.64 L643.65,445.61 L646.81,445.59 L649.97,445.56 L653.13,445.53 L656.29,445.50 L659.45,445.47 L662.61,445.43 L665.77,445.40 L668.93,445.36 L672.09,445.32 L675.25,445.27 L678.41,445.23 L681.57,445.18 L684.73,445.13 L687.89,445.08 L691.05,445.03 L694.21,444.97 L697.37,444.91 L700.53,444.84 L703.69,444.78 L706.86,444.71 L710.02,444.64 L713.18,444.56 L716.34,444.48 L719.50,444.39 L722.66,444.31 L725.82,444.21 L728.98,444.12 L732.14,444.02 L735.30,443.91 L738.46,443.80 L741.62,443.69 L744.78,443.56 L747.94,443.44 L751.10,443.31 L754.26,443.17 L757.42,443.03 L760.58,442.88 L763.74,442.72 L766.90,442.56 L770.06,442.39 L773.22,442.21 L776.38,442.03 L779.54,441.84 L782.70,441.64" stroke="#0000ff"/>
</g>
<g stroke="#000" stroke-width="1.6" fill="none" stroke-linecap="butt">
<rect x="154.0" y="414.70" width="634.80" height="307.10"/>
<path d="M159.54,721.80v-8.3M159.54,414.70v8.3M178.61,721.80v-8.3M178.61,414.70v8.3M197.68,721.80v-8.3M197.68,414.70v8.3M216.75,721.80v-16.4M216.75,414.70v16.4M235.82,721.80v-8.3M235.82,414.70v8.3M254.89,721.80v-8.3M254.89,414.70v8.3M273.96,721.80v-8.3M273.96,414.70v8.3M293.03,721.80v-8.3M293.03,414.70v8.3M312.10,721.80v-16.4M312.10,414.70v16.4M331.17,721.80v-8.3M331.17,414.70v8.3M350.24,721.80v-8.3M350.24,414.70v8.3M369.31,721.80v-8.3M369.31,414.70v8.3M388.38,721.80v-8.3M388.38,414.70v8.3M407.45,721.80v-16.4M407.45,414.70v16.4M426.52,721.80v-8.3M426.52,414.70v8.3M445.59,721.80v-8.3M445.59,414.70v8.3M464.66,721.80v-8.3M464.66,414.70v8.3M483.73,721.80v-8.3M483.73,414.70v8.3M502.80,721.80v-16.4M502.80,414.70v16.4M521.87,721.80v-8.3M521.87,414.70v8.3M540.94,721.80v-8.3M540.94,414.70v8.3M560.01,721.80v-8.3M560.01,414.70v8.3M579.08,721.80v-8.3M579.08,414.70v8.3M598.15,721.80v-16.4M598.15,414.70v16.4M617.22,721.80v-8.3M617.22,414.70v8.3M636.29,721.80v-8.3M636.29,414.70v8.3M655.36,721.80v-8.3M655.36,414.70v8.3M674.43,721.80v-8.3M674.43,414.70v8.3M693.50,721.80v-16.4M693.50,414.70v16.4M712.57,721.80v-8.3M712.57,414.70v8.3M731.64,721.80v-8.3M731.64,414.70v8.3M750.71,721.80v-8.3M750.71,414.70v8.3M769.78,721.80v-8.3M769.78,414.70v8.3M154.0,715.90h8.3M788.8,715.90h-8.3M154.0,703.60h8.3M788.8,703.60h-8.3M154.0,691.30h16.4M788.8,691.30h-16.4M154.0,679.00h8.3M788.8,679.00h-8.3M154.0,666.70h8.3M788.8,666.70h-8.3M154.0,654.40h8.3M788.8,654.40h-8.3M154.0,642.10h8.3M788.8,642.10h-8.3M154.0,629.80h16.4M788.8,629.80h-16.4M154.0,617.50h8.3M788.8,617.50h-8.3M154.0,605.20h8.3M788.8,605.20h-8.3M154.0,592.90h8.3M788.8,592.90h-8.3M154.0,580.60h8.3M788.8,580.60h-8.3M154.0,568.30h16.4M788.8,568.30h-16.4M154.0,556.00h8.3M788.8,556.00h-8.3M154.0,543.70h8.3M788.8,543.70h-8.3M154.0,531.40h8.3M788.8,531.40h-8.3M154.0,519.10h8.3M788.8,519.10h-8.3M154.0,506.80h16.4M788.8,506.80h-16.4M154.0,494.50h8.3M788.8,494.50h-8.3M154.0,482.20h8.3M788.8,482.20h-8.3M154.0,469.90h8.3M788.8,469.90h-8.3M154.0,457.60h8.3M788.8,457.60h-8.3M154.0,445.30h16.4M788.8,445.30h-16.4M154.0,433.00h8.3M788.8,433.00h-8.3M154.0,420.70h8.3M788.8,420.70h-8.3" stroke-width="1.4"/>
</g>
<g font-family="Liberation Serif, serif" fill="#000">
<text transform="translate(217.35,749.80) scale(1,1.0)" font-size="29.64" text-anchor="middle">0.08</text>
<text transform="translate(312.70,749.80) scale(1,1.0)" font-size="29.64" text-anchor="middle">0.1</text>
<text transform="translate(408.05,749.80) scale(1,1.0)" font-size="29.64" text-anchor="middle">0.12</text>
<text transform="translate(503.40,749.80) scale(1,1.0)" font-size="29.64" text-anchor="middle">0.14</text>
<text transform="translate(598.75,749.80) scale(1,1.0)" font-size="29.64" text-anchor="middle">0.16</text>
<text transform="translate(694.10,749.80) scale(1,1.0)" font-size="29.64" text-anchor="middle">0.18</text>
<text transform="translate(789.45,749.80) scale(1,1.0)" font-size="29.64" text-anchor="middle">0.2</text>
<text transform="translate(146.50,455.50) scale(1,1.0)" font-size="29.64" text-anchor="end">0</text>
<text transform="translate(146.50,517.00) scale(1,1.0)" font-size="29.64" text-anchor="end">-0.02</text>
<text transform="translate(146.50,578.50) scale(1,1.0)" font-size="29.64" text-anchor="end">-0.04</text>
<text transform="translate(146.50,640.00) scale(1,1.0)" font-size="29.64" text-anchor="end">-0.06</text>
<text transform="translate(146.50,701.50) scale(1,1.0)" font-size="29.64" text-anchor="end">-0.08</text>
</g>
<g transform="translate(61.0,646.80) rotate(-90)" font-family="Liberation Serif, serif" fill="#000">
<text transform="translate(0.00,0.00) scale(1,1.04)" font-size="40.60" font-style="italic">E</text>
<text transform="translate(22.60,16.20) scale(1,1.05)" font-size="28.60" font-style="italic">n</text>
<text transform="translate(37.00,16.20) scale(1,1.05)" font-size="28.60">PN</text>
<text transform="translate(73.60,0.00) scale(1,1.06)" font-size="40.60">/</text>
<text transform="translate(85.00,0.00) scale(1,1.04)" font-size="40.60" font-style="italic">E</text>
<text transform="translate(118.60,0.00) scale(0.8,1.0)" font-size="40.60">-</text>
<text transform="translate(142.30,0.00) scale(0.88,1.03)" font-size="40.60">1</text>
<path d="M12.0,-33.4 l5.3,-9.0 l5.3,9.0" stroke="#000" stroke-width="1.25" fill="none"/>
<path d="M97.0,-33.4 l5.3,-9.0 l5.3,9.0" stroke="#000" stroke-width="1.25" fill="none"/>
</g>
<g font-family="Liberation Serif, serif">
<text transform="translate(462.40,777.20) scale(1,1.0)" font-size="41.50" font-style="italic">x</text>
<text transform="translate(181.70,533.70) scale(1,1.0)" font-size="32.62">ν</text>
<text transform="translate(232.50,533.70) scale(1,1.007)" font-size="32.40">0.25</text>
<path d="M206.8,521.4H224.5M206.8,527.9H224.5" stroke="#000" stroke-width="1.7" fill="none"/>
<text transform="translate(377.60,497.10) scale(1,1.02)" font-size="32.58" fill="#ff0000">EOB(5PN)</text>
<text transform="translate(631.20,472.20) scale(1,1.03)" font-size="32.26" fill="#0000ff">EOB(6PN)</text>
<text transform="translate(523.10,583.20) scale(1,1.02)" font-size="32.64" fill="#000000">EOB(3PN)</text>
<text transform="translate(558.60,615.10) scale(1,1.02)" font-size="32.51" fill="#008b00">EOB(4PN)</text>
</g>
<g stroke="#ff0000" stroke-width="2.7" fill="none" stroke-linecap="butt" stroke-linejoin="miter">
<path d="M525.2,489.3H557.8"/>
<path d="M550.5,485.1L558.8,489.3L550.5,493.5" stroke-width="2.95"/>
</g>
<g stroke="#000000" stroke-width="2.7" fill="none" stroke-linecap="butt" stroke-linejoin="miter">
<path d="M669.5,576.7H701.2"/>
<path d="M693.9,572.5L702.2,576.7L693.9,580.9" stroke-width="2.95"/>
</g>
<g stroke="#008b00" stroke-width="2.7" fill="none" stroke-linecap="butt" stroke-linejoin="miter">
<path d="M705.1,606.0H765.4"/>
<path d="M758.1,601.8L766.4,606.0L758.1,610.2" stroke-width="2.95"/>
</g>
</g>
</svg>
</body></html>
